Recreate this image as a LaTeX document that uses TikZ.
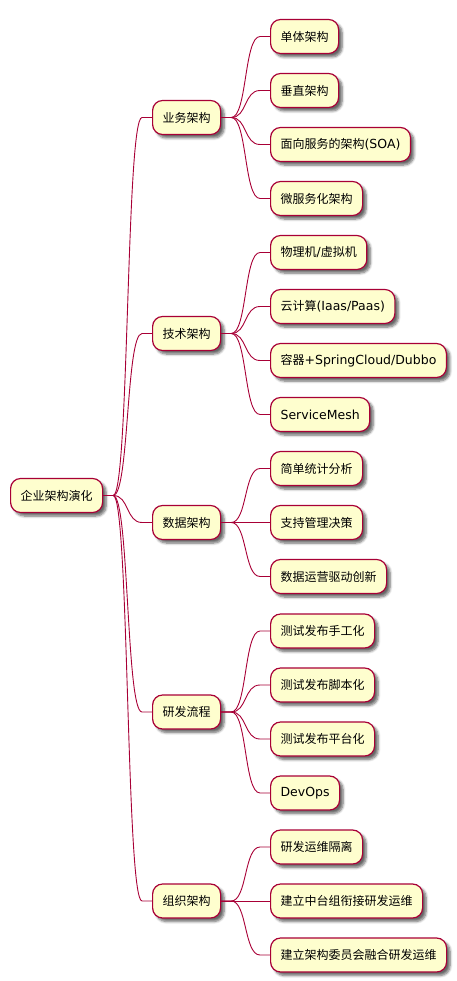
\documentclass[tikz,border=0pt]{standalone}
\usepackage{fontspec}
\setmainfont{DejaVu Sans}
\newfontfamily\cjk[Scale=0.96]{Noto Sans CJK SC}
\usetikzlibrary{calc,shadows.blur}
\definecolor{boxfill}{HTML}{FEFECE}
\definecolor{boxline}{HTML}{A80036}
\newcommand\zh[1]{{\cjk #1}}
\tikzset{
  mmbox/.style={draw=boxline, fill=boxfill, line width=1.2pt, rounded corners=10pt,
    minimum height=34pt, inner xsep=10pt, inner ysep=0pt, anchor=west,
    font=\fontsize{12.5}{15}\selectfont,
    blur shadow={shadow xshift=3.5pt, shadow yshift=-3.5pt, shadow blur steps=6, shadow opacity=60, shadow blur radius=2.5pt}},
  conn/.style={draw=boxline, line width=0.9pt},
}
\newcommand\conn[2]{\draw[conn] (#1.east) -- ++(10,0) .. controls +(16,0) and +(-16,0) .. ($(#2.west)+(-10pt,0)$) -- (#2.west);}
\begin{document}
\begin{tikzpicture}[x=1pt,y=-1pt]
\useasboundingbox (0,0) rectangle (456,981);
\node[mmbox, minimum width=92pt] (root) at (10,495.5) {\zh{企业架构演化}};
\node[mmbox] (a) at (152,117.5) {\zh{业务架构}};
\node[mmbox] (b) at (152,333.5) {\zh{技术架构}};
\node[mmbox] (c) at (152,522.5) {\zh{数据架构}};
\node[mmbox] (d) at (152,712) {\zh{研发流程}};
\node[mmbox] (e) at (152,901) {\zh{组织架构}};
\node[mmbox] (a1) at (270,36.5) {\zh{单体架构}};
\node[mmbox] (a2) at (270,90.5) {\zh{垂直架构}};
\node[mmbox] (a3) at (270,144.5) {\zh{面向服务的架构}(SOA)};
\node[mmbox] (a4) at (270,198.5) {\zh{微服务化架构}};
\node[mmbox] (b1) at (270,252.5) {\zh{物理机}/\zh{虚拟机}};
\node[mmbox] (b2) at (270,306.5) {\zh{云计算}(Iaas/Paas)};
\node[mmbox] (b3) at (270,360.5) {\zh{容器}+SpringCloud/Dubbo};
\node[mmbox] (b4) at (270,414.5) {ServiceMesh};
\node[mmbox] (c1) at (270,468.5) {\zh{简单统计分析}};
\node[mmbox] (c2) at (270,522.5) {\zh{支持管理决策}};
\node[mmbox] (c3) at (270,576.5) {\zh{数据运营驱动创新}};
\node[mmbox] (d1) at (270,631) {\zh{测试发布手工化}};
\node[mmbox] (d2) at (270,685) {\zh{测试发布脚本化}};
\node[mmbox] (d3) at (270,739) {\zh{测试发布平台化}};
\node[mmbox] (d4) at (270,793) {DevOps};
\node[mmbox] (e1) at (270,847) {\zh{研发运维隔离}};
\node[mmbox] (e2) at (270,901) {\zh{建立中台组衔接研发运维}};
\node[mmbox] (e3) at (270,955) {\zh{建立架构委员会融合研发运维}};
\foreach \p in {a,b,c,d,e} {\conn{root}{\p}}
\foreach \q in {a1,a2,a3,a4} {\conn{a}{\q}}
\foreach \q in {b1,b2,b3,b4} {\conn{b}{\q}}
\foreach \q in {c1,c2,c3} {\conn{c}{\q}}
\foreach \q in {d1,d2,d3,d4} {\conn{d}{\q}}
\foreach \q in {e1,e2,e3} {\conn{e}{\q}}
\end{tikzpicture}
\end{document}
